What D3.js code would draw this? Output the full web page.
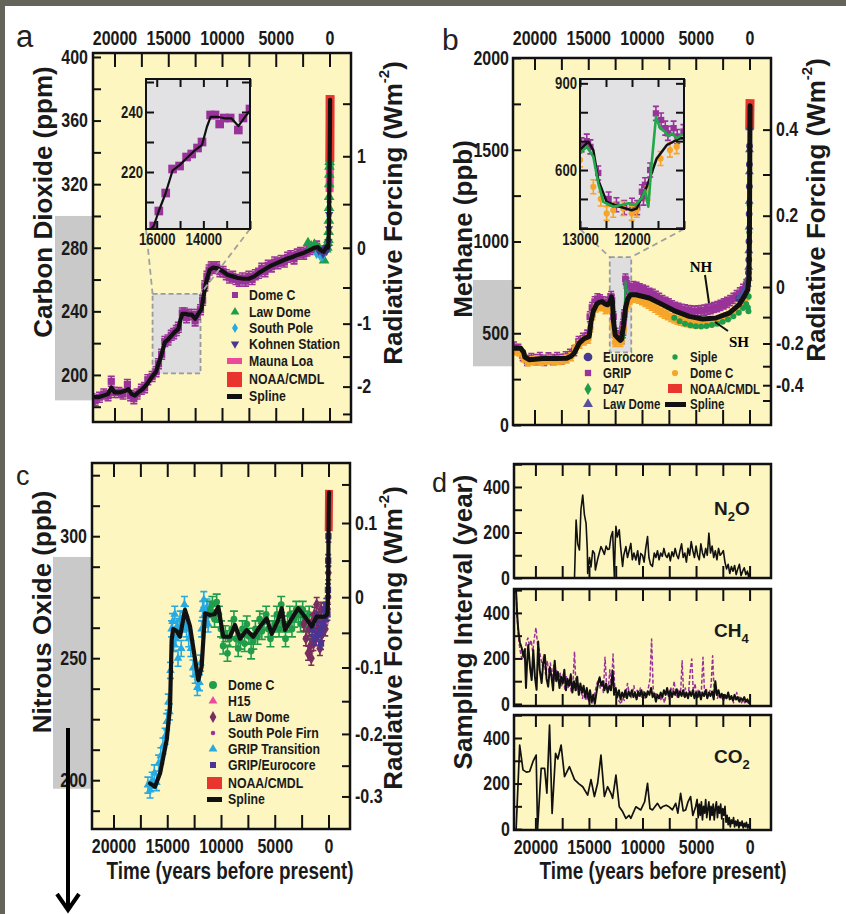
<!DOCTYPE html>
<html><head><meta charset="utf-8">
<script src="https://cdn.jsdelivr.net/npm/d3@7"></script>
<style>body{margin:0;background:#fff}</style>
</head><body><script>
// ================= DATA =================
const timeTicks=[0,2500,5000,7500,10000,12500,15000,17500,20000];
const timeLabels=[0,5000,10000,15000,20000];

// ---- (a) CO2 ----
const co2Ticks=[180,200,220,240,260,280,300,320,340,360,380,400];
const co2Labels=[200,240,280,320,360,400];
const co2ForcingTicks=[-2.5,-2,-1.5,-1,-0.5,0,0.5,1,1.5];
const co2ForcingLabels=[-2,-1,0,1];
const co2NaturalRange=[184,300];
const co2InsetTime=[16460,12000];
const co2InsetConc=[201,251];
const co2InsetTimeTicks=[16000,15000,14000,13000,12000];
const co2InsetTimeLabels=[16000,14000];
const co2InsetConcTicks=[210,220,230,240,250];
const co2InsetConcLabels=[220,240];
const co2Spline=[[22000,186],[21500,186],[21000,187],[20600,188],[20300,192],[20000,189],[19500,189],[19000,190],[18700,191],[18400,188],[18100,187],[17800,189],[17400,191],[17000,194],[16600,198],[16130,202],[15910,207],[15615,213],[15320,220.5],[15020,222.3],[14720,224.6],[14355,227.3],[14058,229],[13850,235],[13690,238.4],[13390,238.4],[13100,237.9],[12800,237.9],[12500,235.3],[12210,238.4],[11910,241.3],[11700,250],[11450,259],[11150,266],[10850,267.5],[10400,267],[10000,265.5],[9500,263],[9000,262],[8500,261],[8000,260.5],[7500,260.5],[7000,262],[6500,264.5],[6000,266.5],[5500,268.5],[5000,270],[4500,271.5],[4000,273],[3500,274],[3000,275.5],[2500,276.5],[2000,278],[1700,279],[1400,280],[1100,280.5],[900,279],[700,278],[550,277.5],[400,279],[250,281],[150,280],[100,283],[60,290],[40,300],[20,315],[0,325],[-20,340],[-40,355],[-55,373]];
const co2DomeC=[[22100,185],[21800,184],[21400,186],[21000,188],[20600,187],[20300,196],[20000,189],[19600,189],[19200,188],[18800,194],[18500,187],[18200,185],[17900,188],[17500,191],[17200,192],[16900,197],[16500,199],[16130,202],[15910,207],[15615,213],[15320,221],[15020,222],[14720,225],[14500,226],[14250,228],[14058,230],[13690,239],[13500,239],[13300,236],[13100,238],[12850,238],[12500,234],[12300,238],[12000,241],[11800,247],[11600,256],[11400,262],[11200,266],[11000,268],[10800,267],[10500,268],[10200,265],[9900,265],[9600,263],[9300,261],[9000,262],[8700,260],[8400,259],[8100,261],[7800,259],[7500,262],[7200,260],[6900,263],[6600,264],[6300,267],[6000,265],[5700,269],[5400,268],[5100,271],[4800,270],[4500,272],[4200,271],[3900,274],[3600,275],[3300,273],[3000,276],[2700,277],[2400,276],[2100,278],[1800,279],[1500,280],[1200,281]];
const co2LawDome=[[2000,283],[1700,281],[1400,282],[1100,280],[900,279],[700,277],[500,272],[300,279],[200,280],[150,283],[100,285],[80,290],[60,297],[45,305],[35,312],[25,320],[15,326],[5,331],[-10,334]];
const co2SouthPole=[[1200,276],[900,275],[700,274],[500,276],[200,279],[100,284],[50,300],[30,309]];
const co2Kohnen=[[1000,278],[800,279],[600,276],[400,280],[250,278],[150,280],[100,284],[50,292],[30,301]];
const co2MaunaLoa=[[-8,315],[-15,320],[-25,327],[-35,339],[-45,350],[-55,376]];
const co2NOAA=[[-30,334],[-40,345],[-50,360],[-55,376]];

// ---- (b) CH4 ----
const ch4Ticks=[0,250,500,750,1000,1250,1500,1750,2000];
const ch4Labels=[0,500,1000,1500,2000];
const ch4ForcingTicks=[-0.5,-0.4,-0.3,-0.2,-0.1,0,0.1,0.2,0.3,0.4];
const ch4ForcingLabels=[-0.4,-0.2,0,0.2,0.4];
const ch4NaturalRange=[320,790];
const ch4InsetTime=[13000,11000];
const ch4InsetConc=[396,915];
const ch4InsetTimeTicks=[13000,12500,12000,11500,11000];
const ch4InsetTimeLabels=[13000,12000];
const ch4InsetConcTicks=[400,500,600,700,800,900];
const ch4InsetConcLabels=[600,900];
const ch4Spline=[[22000,418],[21300,420],[21000,395],[20900,370],[20500,356],[20000,358],[19000,364],[18000,362],[17000,364],[16600,375],[16300,392],[15840,446],[15400,470],[14910,483],[14750,560],[14540,619],[14200,660],[13980,668],[13700,672],[13450,660],[13200,655],[13000,669],[12840,698],[12744,669],[12648,565],[12487,490],[12231,473],[12006,461],[11910,467],[11717,542],[11525,640],[11333,686],[11077,710],[10570,710],[9330,692],[8090,656],[6850,619],[5610,592],[4370,578],[3130,583],[1890,610],[960,656],[490,701],[160,738],[50,800],[10,1000],[-10,1250],[-30,1500],[-50,1740]];
const ch4D47=[[13000,658],[12870,681],[12744,646],[12648,554],[12551,490],[12359,473],[12071,485],[11935,479],[11814,502],[11750,530],[11686,473],[11622,623],[11538,785],[11462,745],[11365,733],[11300,716],[11237,727],[11141,710],[11045,721]];
const ch4GRIP=[[21900,425],[21500,412],[21100,378],[20700,352],[20300,362],[19900,356],[19500,368],[19100,352],[18700,366],[18300,356],[17900,368],[17500,358],[17100,372],[16700,385],[16300,405],[15900,455],[15500,472],[15100,490],[14850,590],[14650,640],[14400,672],[14150,688],[13900,682],[13650,672],[13400,655],[13200,668],[12970,687],[12870,700],[12800,680],[12650,590],[12450,500],[12300,480],[12150,470],[12000,478],[11900,470],[11810,525],[11780,503],[11750,549],[11650,600],[11540,796],[11440,773],[11360,745],[11310,727],[11200,745],[11130,716],[11010,733],[10800,755],[10500,750],[10200,742],[9900,735],[9600,728],[9300,718],[9000,712],[8700,702],[8400,690],[8100,678],[7800,668],[7500,660],[7200,650],[6900,642],[6600,636],[6300,630],[6000,628],[5700,624],[5400,622],[5100,620],[4800,622],[4500,624],[4200,626],[3900,630],[3600,634],[3300,640],[3000,645],[2700,652],[2400,660],[2100,668],[1800,678],[1500,690],[1200,705],[900,720],[600,740],[300,765]];
const ch4DomeC=[[21800,405],[21400,398],[21000,365],[20600,345],[20200,350],[19800,355],[19400,348],[19000,352],[18600,356],[18200,348],[17800,352],[17400,355],[17000,360],[16600,372],[16200,415],[15800,440],[15400,458],[15000,468],[14800,530],[14600,595],[14300,638],[14000,645],[13700,648],[13400,628],[13200,640],[13000,635],[12744,542],[12600,500],[12487,450],[12360,461],[12167,467],[12006,450],[11910,461],[11700,520],[11450,640],[11270,669],[11141,681],[10900,690],[10600,692],[10300,686],[10000,678],[9700,668],[9400,658],[9100,648],[8800,636],[8500,625],[8200,614],[7900,604],[7600,596],[7300,586],[7000,578],[6700,571],[6400,566],[6100,561],[5800,557],[5500,554],[5200,552],[4900,552],[4600,552],[4300,554],[4000,556],[3700,559],[3400,563],[3100,568],[2800,574],[2500,581],[2200,589],[1900,598],[1600,610],[1300,624],[1000,640],[700,660],[400,688],[200,705]];
const ch4Siple=[[7000,585],[6500,566],[6000,552],[5500,543],[5000,538],[4500,537],[4000,540],[3500,545],[3000,552],[2500,562],[2000,575],[1500,592],[1000,612],[600,638],[300,660],[150,640],[100,620],[70,700],[50,800],[35,900],[20,1050],[10,1200],[0,1300]];
const ch4Eurocore=[[1000,690],[800,700],[600,715],[400,735],[250,760],[150,790],[100,830],[70,900],[50,1000],[35,1150],[20,1300],[10,1420],[0,1520]];
const ch4LawDome=[[900,700],[700,712],[500,728],[300,748],[200,768],[120,800],[80,860],[60,950],[40,1080],[25,1220],[10,1380],[0,1500],[-15,1620]];
const ch4NOAA=[[-20,1612],[-30,1680],[-40,1730],[-52,1776]];

// ---- (c) N2O ----
const n2oTicks=[187.5,200,212.5,225,237.5,250,262.5,275,287.5,300,312.5,325];
const n2oLabels=[200,250,300];
const n2oForcingTicks=[-0.3,-0.25,-0.2,-0.15,-0.1,-0.05,0,0.05,0.1,0.15];
const n2oForcingLabels=[-0.3,-0.2,-0.1,0,0.1];
const n2oNaturalRange=[196.5,291.5];
const n2oSpline=[[16600,198.7],[16140,197.3],[15670,202.8],[15050,216.5],[14740,230],[14590,257.5],[14440,262],[14100,261],[13810,258.8],[13350,269.8],[12880,263],[12500,252],[12110,241],[11800,246.5],[11490,268.4],[11020,267.7],[10600,268],[10250,271],[9790,258.8],[9160,258.8],[8700,263.6],[8230,258],[7610,261.5],[7000,258.8],[6370,263],[5750,266.3],[5280,260],[4670,265.7],[4350,270.5],[4050,261.6],[3580,265],[2810,270.5],[2190,267],[1560,263],[1100,267],[330,267],[100,268],[40,275],[20,285],[0,300],[-30,315],[-50,318]];
const n2oGRIPTransition=[[16800,198],[16600,196],[16400,200],[16200,203],[16000,199],[15800,207],[15600,210],[15400,214],[15200,218],[15050,224],[14900,232],[14800,228],[14700,245],[14600,262],[14500,265],[14400,256],[14300,268],[14200,258],[14100,263],[14000,250],[13900,262],[13800,266],[13700,254],[13600,266],[13500,264],[13400,272],[13300,268],[13200,262],[13000,258],[12800,254],[12600,246],[12400,243],[12200,238],[12000,240],[11900,248],[11800,262],[11700,270],[11600,274],[11500,268],[11400,266],[11300,271],[11200,264],[11100,270]];
const n2oDomeC=[[11000,270],[10800,272],[10600,266],[10400,273],[10200,268],[10000,262],[9800,255],[9600,260],[9400,252],[9200,258],[9000,262],[8800,266],[8600,258],[8400,254],[8200,257],[8000,262],[7800,256],[7600,264],[7400,259],[7200,253],[7000,257],[6800,262],[6600,259],[6400,266],[6200,261],[6000,265],[5800,268],[5600,262],[5400,258],[5200,262],[5000,264],[4800,268],[4600,262],[4400,272],[4200,264],[4000,258],[3800,264],[3600,268],[3400,262],[3200,266],[3000,270],[2800,268],[2600,264],[2400,270],[2200,266],[2000,262],[1800,268],[1600,258]];
const n2oLawDome=[[2300,264],[2100,258],[1900,252],[1800,262],[1700,255],[1600,250],[1500,265],[1400,256],[1300,268],[1200,258],[1100,272],[1000,262],[900,266],[800,254],[700,270],[600,260],[500,264],[400,266],[300,262],[200,268],[100,270],[50,275],[20,285]];
const n2oH15=[[300,265],[200,268]];
const n2oSouthPoleFirn=[[60,282],[40,290],[20,298]];
const n2oGRIPEurocore=[[1500,262],[1300,258],[1100,266],[900,260],[700,256],[600,262],[500,264],[400,270],[300,266],[200,272],[100,268],[50,278],[30,290],[10,300]];
const n2oNOAA=[[-20,302],[-30,308],[-40,314],[-50,319]];

// ---- (d) sampling intervals ----
const intervalTicks=[0,100,200,300,400,500];
const intervalLabels=[0,200,400];
const n2oInterval=[[16350,0],[16200,255],[16050,150],[15890,123],[15750,300],[15580,365],[15430,280],[15270,240],[15150,120],[15120,20],[14950,90],[14810,49],[14650,120],[14490,108],[14400,35],[14200,80],[13880,138],[13700,120],[13560,104],[13400,140],[13240,125],[13100,127],[12950,180],[12790,204],[12700,90],[12630,7],[12550,150],[12480,227],[12350,180],[12170,212],[12050,140],[11860,51],[11750,100],[11550,138],[11400,90],[11250,120],[11090,152],[10950,80],[10800,110],[10620,79],[10450,120],[10300,60],[10160,108],[10000,100],[9850,70],[9700,130],[9530,182],[9400,90],[9250,60],[9070,51],[8900,110],[8750,90],[8600,120],[8450,80],[8300,110],[8150,95],[8000,130],[7850,100],[7700,90],[7550,110],[7400,75],[7250,115],[7100,95],[6950,130],[6800,100],[6650,85],[6500,120],[6350,150],[6200,90],[6050,110],[5900,70],[5750,130],[5600,100],[5450,160],[5300,120],[5150,90],[5000,140],[4850,100],[4700,80],[4550,150],[4400,110],[4250,90],[4100,130],[3950,100],[3800,197],[3650,110],[3500,140],[3350,90],[3200,120],[3050,80],[2900,130],[2750,100],[2600,108],[2450,120],[2300,70],[2150,40],[2000,60],[1850,20],[1700,50],[1550,30],[1400,55],[1250,15],[1100,40],[950,60],[800,10],[650,30],[500,45],[350,15],[200,30],[100,5],[50,20],[0,0]];
const ch4Interval=[[21810,500],[21700,390],[21600,325],[21450,270],[21280,246],[21130,208],[21000,240],[20880,70],[20780,180],[20670,259],[20500,160],[20350,105],[20200,237],[20050,120],[19890,62],[19740,274],[19600,150],[19420,92],[19270,180],[19120,215],[18960,110],[18810,76],[18650,160],[18500,120],[18350,60],[18200,190],[18050,100],[17900,140],[17750,70],[17600,120],[17450,90],[17300,150],[17150,60],[17000,110],[16850,80],[16700,130],[16550,50],[16400,100],[16250,60],[16100,120],[15950,40],[15800,90],[15650,50],[15500,80],[15350,30],[15200,70],[15050,20],[14900,60],[14750,10],[14600,40],[14450,0],[14300,50],[14150,90],[14000,117],[13850,80],[13700,100],[13550,60],[13400,90],[13250,50],[13100,80],[12950,60],[12790,146],[12650,40],[12500,70],[12350,30],[12200,60],[12050,20],[11900,50],[11750,30],[11600,60],[11450,25],[11300,55],[11150,35],[11000,60],[10850,30],[10700,50],[10550,20],[10400,55],[10250,35],[10100,60],[9950,25],[9800,50],[9650,30],[9500,55],[9350,40],[9200,70],[9050,30],[8900,45],[8750,10],[8600,40],[8450,25],[8300,50],[8150,30],[8000,60],[7850,40],[7700,70],[7550,35],[7400,60],[7250,30],[7100,55],[6950,40],[6800,65],[6650,30],[6500,55],[6350,35],[6200,60],[6050,30],[5900,50],[5750,25],[5600,55],[5450,35],[5300,60],[5150,25],[5000,50],[4850,30],[4700,55],[4550,20],[4400,50],[4250,35],[4100,60],[3950,25],[3800,50],[3650,35],[3500,55],[3350,20],[3200,100],[3050,40],[2900,60],[2750,30],[2600,45],[2450,20],[2300,40],[2150,25],[2000,50],[1850,20],[1700,35],[1550,15],[1400,40],[1250,20],[1100,30],[950,10],[800,25],[650,15],[500,30],[350,10],[200,20],[50,5]];
const ch4IntervalAlt=[[21810,500],[21700,380],[21600,300],[21450,240],[21300,205],[21150,195],[21000,215],[20850,270],[20700,290],[20550,255],[20400,280],[20250,230],[20100,290],[19950,335],[19800,260],[19650,240],[19500,200],[19350,170],[19200,220],[19050,130],[18900,190],[18750,140],[18600,180],[18450,110],[18300,170],[18150,100],[18000,150],[17850,90],[17700,140],[17550,80],[17400,130],[17250,60],[17100,120],[16950,70],[16800,110],[16650,50],[16500,90],[16350,230],[16200,60],[16050,90],[15900,40],[15750,70],[15600,25],[15450,55],[15300,15],[15150,45],[15000,10],[14850,35],[14700,0],[14550,30],[14400,60],[14250,90],[14100,110],[13950,70],[13800,100],[13650,50],[13500,205],[13350,80],[13200,60],[13050,150],[12900,70],[12750,219],[12600,80],[12450,40],[12300,20],[12150,10],[12000,0],[11850,30],[11700,15],[11550,45],[11400,90],[11250,50],[11100,25],[10950,45],[10800,80],[10650,30],[10500,60],[10350,35],[10200,70],[10050,30],[9900,55],[9750,25],[9600,45],[9450,70],[9300,110],[9150,285],[9000,60],[8850,30],[8700,50],[8550,20],[8400,40],[8250,15],[8100,35],[7950,5],[7800,40],[7650,60],[7500,20],[7350,70],[7200,40],[7050,100],[6900,50],[6750,30],[6600,60],[6450,40],[6300,190],[6150,35],[6000,70],[5850,30],[5700,50],[5550,140],[5400,197],[5250,45],[5100,90],[4950,40],[4800,60],[4650,30],[4500,60],[4350,205],[4200,40],[4050,70],[3900,30],[3750,50],[3600,80],[3450,212],[3300,40],[3150,60],[3000,25],[2850,45],[2700,20],[2550,40],[2400,15],[2250,30],[2100,20],[1950,45],[1800,15],[1650,30],[1500,5],[1350,20],[1200,50],[1050,15],[900,30],[750,5],[600,20],[450,5],[300,15],[150,5],[50,0]];
const co2Interval=[[21800,0],[21470,369],[21160,260],[20840,250],[20540,253],[20200,300],[19930,325],[19800,0],[19460,267],[19140,267],[18930,158],[18680,457],[18440,69],[18120,333],[17910,308],[17600,369],[17280,230],[16820,274],[16350,217],[15960,200],[15580,186],[15120,149],[14810,217],[14490,143],[14190,201],[13880,325],[13560,143],[13260,186],[12950,157],[12790,135],[12480,237],[12170,98],[11860,77],[11550,47],[11250,60],[11090,47],[10620,98],[10160,84],[9800,120],[9530,201],[9300,90],[9070,84],[8600,113],[8300,90],[8140,98],[7800,105],[7520,98],[7200,85],[6900,113],[6700,70],[6440,157],[6200,80],[5970,84],[5750,120],[5510,143],[5300,60],[5040,98],[4900,130],[4800,50],[4700,110],[4600,60],[4500,120],[4400,40],[4300,100],[4200,70],[4100,130],[4000,50],[3900,90],[3800,120],[3700,40],[3600,100],[3500,60],[3400,110],[3300,40],[3200,90],[3100,120],[3000,50],[2900,100],[2800,70],[2700,110],[2600,45],[2500,90],[2400,60],[2300,100],[2200,30],[2100,60],[2000,20],[1900,50],[1800,10],[1700,40],[1600,25],[1500,50],[1400,10],[1300,35],[1200,15],[1100,40],[1000,5],[900,30],[800,15],[700,35],[600,5],[500,25],[400,10],[300,30],[200,5],[100,20],[0,0]];

// forcing relations (simplified IPCC expressions)
const co2Conc=F=>280*Math.exp(F/5.35);
const ch4Conc=F=>Math.pow(Math.sqrt(752)+F/0.0315,2);
const n2oConc=F=>Math.pow(Math.sqrt(275)+F/0.112,2);

// ================= DRAWING =================
const YELLOW='#fdf6c1', INSET='#e2e1e3', GREYBAR='#c9c9c9';
const PURPLE='#9a3399', GREEN='#1f9d4b', CYAN='#27a9e1', NAVY='#463a8e', RED='#e8352d', PINK='#ec4b9d', ORANGE='#f5a62a', DPURPLE='#7a2d5f';
const NARROW='"Liberation Sans Narrow","Liberation Sans",Arial,sans-serif';
const SANS='"Liberation Sans",Arial,sans-serif';
const svg=d3.select('body').append('svg').attr('width',846).attr('height',914).style('display','block');

function measure(fam){const t=svg.append('text').attr('font-family',fam).attr('font-weight','bold').attr('font-size',100).text('20000 Time');const w=t.node().getComputedTextLength();t.remove();return w;}
const hasNarrow=measure(NARROW)<measure(SANS)*0.95;
function condense(sel){ if(hasNarrow) return; sel.each(function(){ if(!this.textContent) return; const w=this.getComputedTextLength(); if(w>0) d3.select(this).attr('textLength',(w*0.82).toFixed(1)).attr('lengthAdjust','spacingAndGlyphs'); }); }

// page border
svg.append('rect').attr('x',0).attr('y',0).attr('width',846).attr('height',6).attr('fill','#64645a');
svg.append('rect').attr('x',0).attr('y',0).attr('width',5).attr('height',914).attr('fill','#64645a');

let clipN=0;
function makePanel(b,xDom,yDom,bg){
  const x=d3.scaleLinear().domain(xDom).range([b.x0,b.x1]);
  const y=d3.scaleLinear().domain(yDom).range([b.y1,b.y0]);
  svg.append('rect').attr('x',b.x0).attr('y',b.y0).attr('width',b.x1-b.x0).attr('height',b.y1-b.y0).attr('fill',bg||YELLOW);
  const id='clip'+(clipN++);
  svg.append('clipPath').attr('id',id).append('rect').attr('x',b.x0).attr('y',b.y0).attr('width',b.x1-b.x0).attr('height',b.y1-b.y0);
  const g=svg.append('g').attr('clip-path',`url(#${id})`);
  return {x,y,b,g};
}
function frame(b,w){svg.append('rect').attr('x',b.x0).attr('y',b.y0).attr('width',b.x1-b.x0).attr('height',b.y1-b.y0).attr('fill','none').attr('stroke','#111').attr('stroke-width',w||2.5);}
function axisStyle(g,fs){
  g.select('.domain').remove();
  g.selectAll('.tick line').attr('stroke','#111').attr('stroke-width',2);
  g.selectAll('.tick text').attr('font-family',NARROW).attr('font-weight','bold').attr('font-size',fs).attr('fill','#1a1a1a');
  condense(g.selectAll('.tick text'));
}
const fmtOf=labels=>d=>labels.includes(d)?String(d):'';
function axis(kind,P,scale,ticks,labels,len,pad,fs){
  let g, ax;
  if(kind==='left'){ax=d3.axisLeft(scale);g=svg.append('g').attr('transform',`translate(${P.b.x0},0)`);}
  if(kind==='right'){ax=d3.axisRight(scale);g=svg.append('g').attr('transform',`translate(${P.b.x1},0)`);}
  if(kind==='top'){ax=d3.axisTop(scale);g=svg.append('g').attr('transform',`translate(0,${P.b.y0})`);}
  if(kind==='bottom'){ax=d3.axisBottom(scale);g=svg.append('g').attr('transform',`translate(0,${P.b.y1})`);}
  g.call(ax.tickValues(ticks).tickSize(-len).tickPadding(pad).tickFormat(fmtOf(labels||[])));
  axisStyle(g,fs);
  return g;
}
function forcingScale(y,conc){const s=F=>y(conc(F));s.copy=()=>forcingScale(y,conc);s.range=()=>y.range();s.domain=()=>y.domain();return s;}

function line(P,data,color,w,dash,cap){
  P.g.append('path').datum(data).attr('d',d3.line().x(d=>P.x(d[0])).y(d=>P.y(d[1]))).attr('fill','none').attr('stroke',color).attr('stroke-width',w).attr('stroke-linejoin','round').attr('stroke-linecap',cap||(dash?'butt':'round')).attr('stroke-dasharray',dash||null);
}
function pts(P,data,o){
  const g=P.g.append('g');
  if(o.err){
    g.selectAll('path.e').data(data).join('path').attr('class','e')
      .attr('d',d=>{const cx=P.x(d[0]),cy=P.y(d[1]),e=o.err,c=o.cap||3;return `M${cx},${cy-e}V${cy+e}M${cx-c},${cy-e}H${cx+c}M${cx-c},${cy+e}H${cx+c}`;})
      .attr('stroke',o.color).attr('stroke-width',1.6).attr('fill','none');
  }
  g.selectAll('path.m').data(data).join('path').attr('class','m')
    .attr('transform',d=>`translate(${P.x(d[0])},${P.y(d[1])})${o.rot?' rotate(180)':''}`)
    .attr('d',d3.symbol().type(o.type).size(o.size)).attr('fill',o.color);
}
function greyBar(P,range,x0){
  svg.append('rect').attr('x',x0).attr('y',P.y(range[1])).attr('width',P.b.x0-x0).attr('height',P.y(range[0])-P.y(range[1])).attr('fill',GREYBAR);
}
function zoomBox(P,tDom,cDom,inB){
  const x0=P.x(tDom[0]),x1=P.x(tDom[1]),y0=P.y(cDom[1]),y1=P.y(cDom[0]);
  P.g.append('rect').attr('x',x0).attr('y',y0).attr('width',x1-x0).attr('height',y1-y0).attr('fill','#dfdedf').attr('stroke','#9a9a9a').attr('stroke-width',1.8).attr('stroke-dasharray','5,3');
  return ()=>{
    svg.append('path').attr('d',`M${inB.x0},${inB.y1}L${x0},${y0}M${inB.x1},${inB.y1}L${x1},${y0}`).attr('stroke','#a0a0a0').attr('stroke-width',1.8).attr('stroke-dasharray','6,4').attr('fill','none');
  };
}
function vtitle(x,y,txt,sup){
  const t=svg.append('text').attr('transform',`translate(${x},${y}) rotate(-90)`).attr('text-anchor','middle').attr('dominant-baseline','central').attr('font-family',SANS).attr('font-weight','bold').attr('font-size',26).attr('fill','#1a1a1a');
  t.append('tspan').text(txt);
  if(sup){t.append('tspan').attr('dy',-10).attr('font-size',15).text('-2');t.append('tspan').attr('dy',10).text(')');}
}
function htitle(x,y,txt){const t=svg.append('text').attr('x',x).attr('y',y).attr('text-anchor','middle').attr('font-family',NARROW).attr('font-weight','bold').attr('font-size',23).attr('fill','#1a1a1a').text(txt);condense(t);}
function plabel(x,y,txt,fs){svg.append('text').attr('x',x).attr('y',y).attr('font-family',NARROW).attr('font-size',fs).attr('fill','#222').text(txt);}
function legend(items,mx,tx,fs){
  items.forEach(it=>{
    const g=svg.append('g');
    if(it.rect){g.append('rect').attr('x',it.rect[0]).attr('y',it.rect[1]).attr('width',it.rect[2]).attr('height',it.rect[3]).attr('fill',it.color);}
    else{g.append('path').attr('transform',`translate(${mx},${it.y})${it.rot?' rotate(180)':''}`).attr('d',d3.symbol().type(it.type).size(it.size)).attr('fill',it.color);}
    const t=g.append('text').attr('x',it.tx||tx).attr('y',it.y).attr('dy','0.36em').attr('font-family',NARROW).attr('font-weight','bold').attr('font-size',fs||15).attr('fill','#1a1a1a').text(it.label);
    condense(t);
  });
}

// ============ PANEL A ============
const PA=makePanel({x0:93,x1:351,y0:53,y1:422},[22000,-2000],[170.4,402.5]);
greyBar(PA,co2NaturalRange,55);
const insA={x0:146,x1:250,y0:79,y1:229};
const connA=zoomBox(PA,co2InsetTime,co2InsetConc,insA);
pts(PA,co2DomeC,{type:d3.symbolSquare,size:52,color:PURPLE,err:5,cap:3.5});
line(PA,co2MaunaLoa,PINK,8,null,'butt');
line(PA,co2NOAA,RED,9,null,'butt');
pts(PA,co2LawDome,{type:d3.symbolTriangle,size:50,color:GREEN});
pts(PA,co2SouthPole,{type:d3.symbolDiamond,size:30,color:CYAN});
pts(PA,co2Kohnen,{type:d3.symbolTriangle,size:30,color:NAVY,rot:true});
line(PA,co2Spline,'#111',4.2);
frame(PA.b);
axis('left',PA,PA.y,co2Ticks,co2Labels,8,5,19.5);
axis('top',PA,PA.x,timeTicks,timeLabels,14,8,19.5);
axis('bottom',PA,PA.x,timeTicks,[],14,4,19.5);
axis('right',PA,forcingScale(PA.y,co2Conc),co2ForcingTicks,co2ForcingLabels,8,6,19.5);
connA();
const IA=makePanel(insA,co2InsetTime,co2InsetConc,INSET);
pts(IA,co2DomeC,{type:d3.symbolSquare,size:75,color:PURPLE});
line(IA,co2Spline,'#111',2.2);
frame(IA.b,2);
axis('left',IA,IA.y,co2InsetConcTicks,co2InsetConcLabels,8,3,16);
axis('right',IA,IA.y,co2InsetConcTicks,[],8,3,16);
axis('top',IA,IA.x,co2InsetTimeTicks,[],8,3,16);
axis('bottom',IA,IA.x,co2InsetTimeTicks,co2InsetTimeLabels,8,5,16);
legend([
 {label:'Dome C',y:295,type:d3.symbolSquare,size:36,color:PURPLE},
 {label:'Law Dome',y:312,type:d3.symbolTriangle,size:34,color:GREEN},
 {label:'South Pole',y:328,type:d3.symbolDiamond,size:30,color:CYAN},
 {label:'Kohnen Station',y:344,type:d3.symbolTriangle,size:30,color:NAVY,rot:true},
 {label:'Mauna Loa',y:361,rect:[227,358,15,6],color:PINK},
 {label:'NOAA/CMDL',y:379,rect:[227,372,15,15],color:RED},
 {label:'Spline',y:396,rect:[227,394,15,5],color:'#111'}
],235,249,15);
vtitle(43,202,'Carbon Dioxide (ppm)');
vtitle(393,213,'Radiative Forcing (Wm',true);
plabel(16,47,'a',31);

// ============ PANEL B ============
const PB=makePanel({x0:513,x1:771,y0:58,y1:425},[22000,-2000],[0,2000]);
greyBar(PB,ch4NaturalRange,473);
const insB={x0:580,x1:684,y0:79,y1:229};
const connB=zoomBox(PB,ch4InsetTime,ch4InsetConc,insB);
pts(PB,ch4GRIP,{type:d3.symbolSquare,size:46,color:PURPLE,err:5,cap:3});
pts(PB,ch4DomeC,{type:d3.symbolCircle,size:38,color:ORANGE,err:4,cap:3});
pts(PB,ch4Siple,{type:d3.symbolCircle,size:28,color:GREEN});
line(PB,ch4NOAA,RED,9,null,'butt');
pts(PB,ch4Eurocore,{type:d3.symbolCircle,size:36,color:NAVY});
pts(PB,ch4LawDome,{type:d3.symbolTriangle,size:34,color:'#55509e'});
line(PB,ch4D47,GREEN,2);
line(PB,ch4Spline,'#111',5);
frame(PB.b);
axis('left',PB,PB.y,ch4Ticks,ch4Labels,8,4,19.5);
axis('top',PB,PB.x,timeTicks,timeLabels,12,13,19.5);
axis('bottom',PB,PB.x,timeTicks,[],15,4,19.5);
axis('right',PB,forcingScale(PB.y,ch4Conc),ch4ForcingTicks,ch4ForcingLabels,8,5,19.5);
connB();
const IB=makePanel(insB,ch4InsetTime,ch4InsetConc,INSET);
pts(IB,ch4GRIP,{type:d3.symbolSquare,size:40,color:PURPLE,err:7,cap:3});
pts(IB,ch4DomeC,{type:d3.symbolCircle,size:30,color:ORANGE,err:7,cap:3});
line(IB,ch4Spline,'#111',2.5);
line(IB,ch4D47,'#22a84a',2.6);
frame(IB.b,2);
axis('left',IB,IB.y,ch4InsetConcTicks,ch4InsetConcLabels,8,3,16);
axis('right',IB,IB.y,ch4InsetConcTicks,[],8,3,16);
axis('top',IB,IB.x,ch4InsetTimeTicks,[],8,3,16);
axis('bottom',IB,IB.x,ch4InsetTimeTicks,ch4InsetTimeLabels,8,5,16);
// NH / SH annotations
svg.append('path').attr('d','M705,275L709,303M715,322L728,331').attr('stroke','#111').attr('stroke-width',2).attr('fill','none');
svg.append('text').attr('x',701).attr('y',272).attr('text-anchor','middle').attr('font-family','"Liberation Serif",serif').attr('font-weight','bold').attr('font-size',15).text('NH');
svg.append('text').attr('x',739).attr('y',347).attr('text-anchor','middle').attr('font-family','"Liberation Serif",serif').attr('font-weight','bold').attr('font-size',15).text('SH');
legend([
 {label:'Eurocore',y:357,type:d3.symbolCircle,size:60,color:NAVY},
 {label:'GRIP',y:373,type:d3.symbolSquare,size:40,color:PURPLE},
 {label:'D47',y:389,type:d3.symbolDiamond,size:44,color:GREEN},
 {label:'Law Dome',y:404,type:d3.symbolTriangle,size:44,color:'#55509e'}
],588,603,14);
legend([
 {label:'Siple',y:357,type:d3.symbolCircle,size:22,color:GREEN},
 {label:'Dome C',y:373,type:d3.symbolCircle,size:30,color:ORANGE},
 {label:'NOAA/CMDL',y:389,rect:[668,384,14,9],color:RED},
 {label:'Spline',y:404,rect:[665,402,21,5],color:'#111'}
],675,690,14);
vtitle(463,229,'Methane (ppb)');
vtitle(816,210,'Radiative Forcing (Wm',true);
plabel(442,50,'b',30);

// ============ PANEL C ============
const PC=makePanel({x0:92,x1:350,y0:463,y1:829},[22000,-2000],[180,330]);
greyBar(PC,n2oNaturalRange,53);
pts(PC,n2oGRIPTransition,{type:d3.symbolTriangle,size:32,color:CYAN,err:8,cap:3.5});
pts(PC,n2oDomeC,{type:d3.symbolCircle,size:36,color:GREEN,err:8,cap:4});
pts(PC,n2oLawDome,{type:d3.symbolDiamond,size:44,color:DPURPLE,err:7,cap:3});
pts(PC,n2oH15,{type:d3.symbolTriangle,size:26,color:PINK});
pts(PC,n2oGRIPEurocore,{type:d3.symbolSquare,size:40,color:'#4b3590',err:6,cap:3});
pts(PC,n2oSouthPoleFirn,{type:d3.symbolCircle,size:14,color:'#a0319a'});
line(PC,n2oNOAA,RED,8,null,'butt');
line(PC,n2oSpline,'#111',4.2);
frame(PC.b);
axis('left',PC,PC.y,n2oTicks,n2oLabels,8,5,19.5);
axis('top',PC,PC.x,timeTicks,[],14,4,19.5);
axis('bottom',PC,PC.x,timeTicks,timeLabels,14,10,19.5);
axis('right',PC,forcingScale(PC.y,n2oConc),n2oForcingTicks,n2oForcingLabels,8,5,19.5);
legend([
 {label:'Dome C',y:685,type:d3.symbolCircle,size:50,color:GREEN},
 {label:'H15',y:701,type:d3.symbolTriangle,size:34,color:PINK},
 {label:'Law Dome',y:717,type:d3.symbolDiamond,size:40,color:DPURPLE},
 {label:'South Pole Firn',y:733,type:d3.symbolCircle,size:16,color:'#a0319a'},
 {label:'GRIP Transition',y:749,type:d3.symbolTriangle,size:34,color:CYAN},
 {label:'GRIP/Eurocore',y:765,type:d3.symbolSquare,size:36,color:'#4b3590'},
 {label:'NOAA/CMDL',y:783,rect:[207,777,15,12],color:RED},
 {label:'Spline',y:799,rect:[207,797,15,5],color:'#111'}
],213,228,15);
vtitle(42,612,'Nitrous Oxide (ppb)');
vtitle(393,638,'Radiative Forcing (Wm',true);
htitle(230,879,'Time (years before present)');
plabel(16,485,'c',27);
// arrow
svg.append('path').attr('d','M68,728V909M57,894L68,910L79,894').attr('stroke','#000').attr('stroke-width',4).attr('fill','none').attr('stroke-linejoin','miter');

// ============ PANEL D ============
const subs=[
 {b:{x0:514,x1:771,y0:464,y1:578},dom:[0,501],data:[[n2oInterval,'#111',1.6,null]],name:['N','2','O'],ty:515},
 {b:{x0:514,x1:771,y0:589,y1:706},dom:[-9,505],data:[[ch4IntervalAlt,'#9a3399',1.5,'4,2'],[ch4Interval,'#111',2,null]],name:['CH','4',''],ty:637},
 {b:{x0:514,x1:771,y0:715,y1:830},dom:[-4,501],data:[[co2Interval,'#111',1.7,null]],name:['CO','2',''],ty:763}
];
subs.forEach((s,i)=>{
  const P=makePanel(s.b,[22000,-2000],s.dom);
  s.data.forEach(d=>line(P,d[0],d[1],d[2],d[3]));
  frame(P.b);
  axis('left',P,P.y,intervalTicks,intervalLabels,8,4,19.5);
  axis('top',P,P.x,timeTicks,[],12,4,19.5);
  axis('bottom',P,P.x,timeTicks,i===2?timeLabels:[],12,10,19.5);
  const t=svg.append('text').attr('x',714).attr('y',s.ty).attr('font-family',NARROW).attr('font-weight','bold').attr('font-size',19).attr('fill','#1a1a1a');
  t.append('tspan').text(s.name[0]);
  t.append('tspan').attr('dy',6).attr('font-size',13).text(s.name[1]);
  if(s.name[2]) t.append('tspan').attr('dy',-6).text(s.name[2]);
});
vtitle(463,622,'Sampling Interval (year)');
htitle(663,879,'Time (years before present)');
plabel(432,492,'d',27);
</script></body></html>
